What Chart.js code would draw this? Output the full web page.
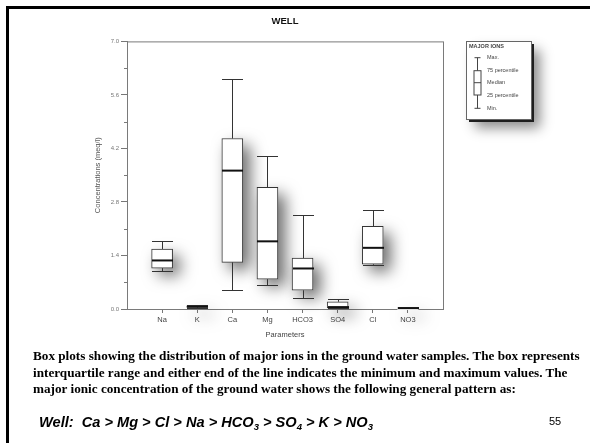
<!DOCTYPE html>
<html>
<head>
<meta charset="utf-8">
<script src="https://cdn.jsdelivr.net/npm/chart.js@4.4.1/dist/chart.umd.min.js"></script>
<style>
  body { margin: 0; background: #fff; }
  #page { position: relative; width: 590px; height: 443px; overflow: hidden; background: #fff; }
  #cadre { position: absolute; left: 6px; top: 6px; width: 600px; height: 434px; border-left: 3px solid #000; border-top: 3px solid #000; }
  #graphique { position: absolute; left: 0; top: 0; }
  #legende { position: absolute; left: 33px; top: 348px; font: bold 13.2px "Liberation Serif", "Times New Roman", serif; line-height: 16.5px; color: #000; white-space: nowrap; }
  #ordre { position: absolute; left: 39px; top: 414px; font: italic bold 14.6px "Liberation Sans", Arial, sans-serif; line-height: 17px; color: #000; white-space: nowrap; }
  #ordre sub { font-size: 9.5px; vertical-align: -3px; }
  #numero { position: absolute; left: 549px; top: 415px; font: 11px "Liberation Sans", Arial, sans-serif; color: #000; }
</style>
</head>
<body>
<div id="page">
  <div id="cadre"></div>
  <canvas id="graphique" width="590" height="443"></canvas>
  <div id="legende">Box plots showing the distribution of major ions in the ground water samples. The box represents<br>interquartile range and either end of the line indicates the minimum and maximum values. The<br>major ionic concentration of the ground water shows the following general pattern as:</div>
  <div id="ordre">Well:&nbsp; Ca &gt; Mg &gt; Cl &gt; Na &gt; HCO<sub>3</sub> &gt; SO<sub>4</sub> &gt; K &gt; NO<sub>3</sub></div>
  <div id="numero">55</div>
</div>
<script>
// donnees (meq/l)
const categories = ['Na', 'K', 'Ca', 'Mg', 'HCO3', 'SO4', 'Cl', 'NO3'];
const minVals    = [1.00, 0.02, 0.49, 0.63, 0.30, 0.02, 1.15, 0.015];
const q1Vals     = [1.07, 0.04, 1.22, 0.78, 0.49, 0.03, 1.17, 0.020];
const medianVals = [1.27, 0.06, 3.62, 1.77, 1.06, 0.05, 1.60, 0.025];
const q3Vals     = [1.57, 0.08, 4.46, 3.18, 1.33, 0.19, 2.16, 0.030];
const maxVals    = [1.79, 0.10, 6.01, 4.01, 2.45, 0.26, 2.59, 0.035];
const yTicks     = [0.0, 1.4, 2.8, 4.2, 5.6, 7.0];
const legendItems = ['Max.', '75 percentile', 'Median', '25 percentile', 'Min.'];

// une categorie vide de chaque cote pour laisser l'espace aux bords
const xLabels = [''].concat(categories).concat(['']);
const boxData = [null].concat(categories.map((c, i) => [q1Vals[i], q3Vals[i]])).concat([null]);

function eachBox(chart, fn) {
    const meta = chart.getDatasetMeta(0);
    meta.data.forEach((bar, i) => {
        const k = i - 1;
        if (k < 0 || k >= categories.length) return;
        if (!Number.isFinite(bar.x)) return;
        fn(bar, k);
    });
}

const boxPlugin = {
    id: 'boxPlugin',
    beforeDatasetsDraw(chart) {
        const ctx = chart.ctx;
        const area = chart.chartArea;
        const y = chart.scales.y;

        // cadre du graphique
        ctx.save();
        ctx.strokeStyle = '#7a7a7a';
        ctx.lineWidth = 1;
        ctx.strokeRect(area.left + 0.5, area.top + 0.5, area.right - area.left, area.bottom - area.top);
        // petites graduations
        for (let i = 0; i < yTicks.length - 1; i++) {
            const py = Math.round(y.getPixelForValue((yTicks[i] + yTicks[i + 1]) / 2)) + 0.5;
            ctx.beginPath();
            ctx.moveTo(area.left - 3, py);
            ctx.lineTo(area.left, py);
            ctx.stroke();
        }
        ctx.restore();

        // ombres des boites
        eachBox(chart, (bar, k) => {
            const top = y.getPixelForValue(q3Vals[k]);
            const bottom = y.getPixelForValue(q1Vals[k]);
            ctx.save();
            ctx.shadowColor = 'rgba(0,0,0,0.6)';
            ctx.shadowBlur = 16;
            ctx.shadowOffsetX = 7;
            ctx.shadowOffsetY = 7;
            ctx.fillStyle = '#fff';
            ctx.fillRect(bar.x - bar.width / 2, top, bar.width, Math.max(bottom - top, 2));
            ctx.restore();
        });
    },
    afterDatasetsDraw(chart) {
        const ctx = chart.ctx;
        const y = chart.scales.y;
        ctx.save();
        eachBox(chart, (bar, k) => {
            const x = Math.round(bar.x) + 0.5;
            const half = bar.width / 2;
            const pMax = Math.round(y.getPixelForValue(maxVals[k])) + 0.5;
            const pQ3 = y.getPixelForValue(q3Vals[k]);
            const pQ1 = y.getPixelForValue(q1Vals[k]);
            const pMin = Math.round(y.getPixelForValue(minVals[k])) + 0.5;
            const pMed = y.getPixelForValue(medianVals[k]);

            ctx.strokeStyle = '#333';
            ctx.lineWidth = 1;
            ctx.beginPath();
            ctx.moveTo(x, pMax); ctx.lineTo(x, pQ3);
            ctx.moveTo(x, pQ1); ctx.lineTo(x, pMin);
            ctx.moveTo(x - half, pMax); ctx.lineTo(x + half, pMax);
            ctx.moveTo(x - half, pMin); ctx.lineTo(x + half, pMin);
            ctx.stroke();

            ctx.strokeStyle = '#111';
            ctx.lineWidth = 2;
            ctx.beginPath();
            ctx.moveTo(x - half, pMed); ctx.lineTo(x + half, pMed);
            ctx.stroke();
        });
        ctx.restore();
    },
    afterDraw(chart) {
        // legende "MAJOR IONS"
        const ctx = chart.ctx;
        const lx = 466, ly = 41, lw = 65, lh = 78;
        ctx.save();
        ctx.shadowColor = 'rgba(0,0,0,0.45)';
        ctx.shadowBlur = 12;
        ctx.shadowOffsetX = 6;
        ctx.shadowOffsetY = 6;
        ctx.fillStyle = '#1e1e1e';
        ctx.fillRect(lx + 3, ly + 3, lw, lh);
        ctx.restore();

        ctx.save();
        ctx.fillStyle = '#fff';
        ctx.fillRect(lx, ly, lw, lh);
        ctx.strokeStyle = '#666';
        ctx.lineWidth = 1;
        ctx.strokeRect(lx + 0.5, ly + 0.5, lw, lh);

        ctx.fillStyle = '#444';
        ctx.font = 'bold 5.5px "Liberation Sans", Arial, sans-serif';
        ctx.textBaseline = 'middle';
        ctx.fillText('MAJOR IONS', lx + 3, ly + 5);

        const cx = 477.5;
        const rows = [57.7, 70.7, 82.7, 95, 108.3];
        ctx.strokeStyle = '#444';
        ctx.beginPath();
        ctx.moveTo(cx, rows[0]); ctx.lineTo(cx, rows[1]);
        ctx.moveTo(cx, rows[3]); ctx.lineTo(cx, rows[4]);
        ctx.moveTo(cx - 3, rows[0]); ctx.lineTo(cx + 3, rows[0]);
        ctx.moveTo(cx - 3, rows[4]); ctx.lineTo(cx + 3, rows[4]);
        ctx.moveTo(cx - 3.5, rows[2]); ctx.lineTo(cx + 3.5, rows[2]);
        ctx.stroke();
        ctx.strokeRect(cx - 3.5, rows[1], 7, rows[3] - rows[1]);

        ctx.font = '5.5px "Liberation Sans", Arial, sans-serif';
        legendItems.forEach((t, i) => {
            ctx.fillText(t, lx + 21, rows[i]);
        });
        ctx.restore();
    }
};

const context = document.getElementById('graphique').getContext('2d');
const myChart = new Chart(context, {
    type: 'bar',
    data: {
        labels: xLabels,
        datasets: [{
            label: 'Major ions',
            data: boxData,
            backgroundColor: '#fff',
            borderColor: '#333',
            borderWidth: 1,
            borderSkipped: false,
            barThickness: 21
        }]
    },
    options: {
        responsive: false,
        animation: false,
        layout: { padding: { left: 87, right: 147, top: 16, bottom: 104 } },
        plugins: {
            legend: { display: false },
            tooltip: { enabled: false },
            title: {
                display: true,
                text: 'WELL',
                fullSize: false,
                color: '#111',
                font: { family: '"Liberation Sans", Arial, sans-serif', size: 9.5, weight: 'bold' },
                padding: { top: 0, bottom: 14 }
            }
        },
        scales: {
            x: {
                offset: false,
                grid: {
                    offset: false,
                    drawOnChartArea: false,
                    tickLength: 4,
                    tickColor: c => (c.tick && c.tick.label === '' ? 'rgba(0,0,0,0)' : '#777')
                },
                border: { color: '#7a7a7a' },
                ticks: {
                    color: '#444',
                    padding: 2,
                    autoSkip: false,
                    maxRotation: 0,
                    font: { family: '"Liberation Sans", Arial, sans-serif', size: 7.5 }
                },
                title: {
                    display: true,
                    text: 'Parameters',
                    color: '#444',
                    padding: 0,
                    font: { family: '"Liberation Sans", Arial, sans-serif', size: 7.5 }
                },
                afterFit(scale) { scale.height = 30; }
            },
            y: {
                min: 0,
                max: 7,
                afterBuildTicks(scale) { scale.ticks = yTicks.map(v => ({ value: v })); },
                grid: { drawOnChartArea: false, tickLength: 6, tickColor: '#777' },
                border: { color: '#7a7a7a' },
                ticks: {
                    color: '#777',
                    padding: 2,
                    font: { family: '"Liberation Sans", Arial, sans-serif', size: 6 },
                    callback: v => Number(v).toFixed(1)
                },
                title: {
                    display: true,
                    text: 'Concentrations (meq/l)',
                    color: '#555',
                    padding: { top: 6.5, bottom: 0 },
                    font: { family: '"Liberation Sans", Arial, sans-serif', size: 7.5 }
                },
                afterFit(scale) { scale.width = 40; }
            }
        }
    },
    plugins: [boxPlugin]
});
</script>
</body>
</html>
